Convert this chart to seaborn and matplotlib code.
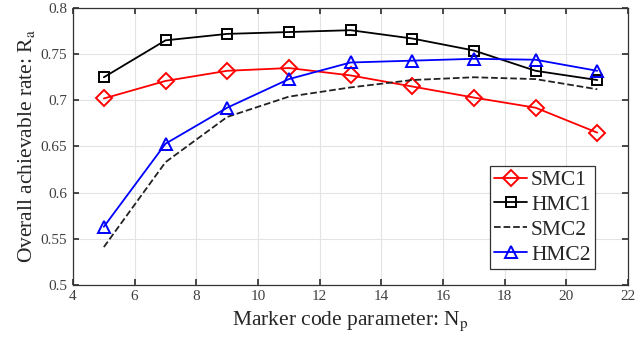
import matplotlib
matplotlib.use("Agg")
import matplotlib.pyplot as plt
import seaborn as sns
import numpy as np
import pandas as pd

Np = [5, 7, 9, 11, 13, 15, 17, 19, 21]
smc1 = [0.702, 0.721, 0.732, 0.735, 0.727, 0.715, 0.703, 0.692, 0.665]
hmc1 = [0.725, 0.765, 0.772, 0.774, 0.776, 0.767, 0.754, 0.732, 0.722]
smc2 = [0.541, 0.633, 0.682, 0.704, 0.714, 0.722, 0.725, 0.723, 0.712]
hmc2 = [0.563, 0.653, 0.692, 0.723, 0.741, 0.743, 0.745, 0.744, 0.732]
labels = ["SMC1", "HMC1", "SMC2", "HMC2"]

sns.set_theme(style="whitegrid")
plt.rcParams['font.family'] = ['Liberation Serif', 'DejaVu Serif']
plt.rcParams['mathtext.fontset'] = 'stix'

fig = plt.figure(figsize=(6.37, 3.5), dpi=100)
ax = fig.add_axes([0.1146, 0.186, 0.8714, 0.791])

styles = [
    dict(color="red", marker="D", linestyle="-", markersize=8),
    dict(color="black", marker="s", linestyle="-", markersize=6.5),
    dict(color="#222222", marker=None, linestyle="--", markersize=0),
    dict(color="blue", marker="^", linestyle="-", markersize=9),
]
for ys, lab, st in zip([smc1, hmc1, smc2, hmc2], labels, styles):
    df = pd.DataFrame({"x": Np, "y": ys})
    kw = dict(color=st["color"], linestyle=st["linestyle"], linewidth=1.3, label=lab)
    if st["marker"]:
        kw.update(marker=st["marker"], markersize=st["markersize"],
                  markerfacecolor="none", markeredgecolor=st["color"], markeredgewidth=1.4)
    sns.lineplot(data=df, x="x", y="y", ax=ax, **kw)

ax.set_xlim(4, 22)
ax.set_ylim(0.5, 0.8)
ax.set_xticks(np.arange(4, 23, 2))
ax.set_yticks([0.5, 0.55, 0.6, 0.65, 0.7, 0.75, 0.8])
ax.set_yticklabels(["0.5", "0.55", "0.6", "0.65", "0.7", "0.75", "0.8"])
ax.grid(True, color="#e3e3e3", linewidth=0.8)
for s in ax.spines.values():
    s.set_color("#333333")
    s.set_linewidth(0.9)
ax.tick_params(direction="in", length=4, color="#333333", labelsize=11,
               labelcolor="#404040", top=True, right=True, bottom=True, left=True, pad=4)
ax.set_xlabel("Marker code parameter: N$_{\\mathrm{p}}$", fontsize=15.5, color="#262626", labelpad=4)
ax.set_ylabel("Overall achievable rate: R$_{\\mathrm{a}}$", fontsize=15.5, color="#262626", labelpad=3)

leg = ax.legend(loc="lower right", bbox_to_anchor=(0.94, 0.058), fontsize=15.5, frameon=True,
                fancybox=False, edgecolor="#333333", framealpha=1, handlelength=1.5,
                handletextpad=0.2, borderpad=0.2, labelspacing=0.22, borderaxespad=0)
leg.get_frame().set_linewidth(0.9)

fig.savefig("out.png", dpi=100)
